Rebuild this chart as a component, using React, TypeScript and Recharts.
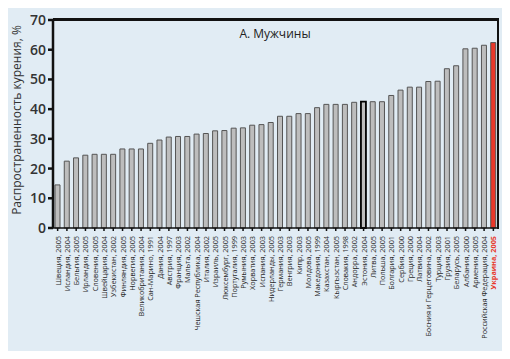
import { Bar, BarChart, Cell, XAxis, YAxis, ReferenceLine } from 'recharts';

const countries = [
  'Швеция, 2005', 'Исландия, 2004', 'Бельгия, 2005', 'Ирландия, 2005', 'Словения, 2005',
  'Швейцария, 2004', 'Узбекистан, 2002', 'Финляндия, 2005', 'Норвегия, 2005', 'Великобритания, 2004',
  'Сан-Марино, 1991', 'Дания, 2004', 'Австрия, 1997', 'Франция, 2003', 'Мальта, 2002',
  'Чешская Республика, 2004', 'Италия, 2002', 'Израиль, 2005', 'Люксембург, 2005', 'Португалия, 1999',
  'Румыния, 2003', 'Хорватия, 2003', 'Испания, 2003', 'Нидерланды, 2005', 'Германия, 2003',
  'Венгрия, 2003', 'Кипр, 2003', 'Молдова, 2005', 'Македония, 1999', 'Казахстан, 2004',
  'Кыргызстан, 2005', 'Словакия, 1998', 'Андорра, 2002', 'Эстония, 2004', 'Литва, 2005',
  'Польша, 2005', 'Болгария, 2001', 'Сербия, 2000', 'Греция, 2000', 'Латвия, 2004',
  'Босния и Герцеговина, 2002', 'Турция, 2003', 'Грузия, 2001', 'Беларусь, 2005', 'Албания, 2000',
  'Армения, 2005', 'Российская Федерация, 2004', 'Украина, 2005',
];

const prevalence = [
  14.5, 22.5, 23.6, 24.5, 24.8, 24.8, 24.8, 26.6, 26.6, 26.6,
  28.5, 29.6, 30.6, 30.8, 30.8, 31.6, 31.8, 32.7, 32.8, 33.6,
  33.7, 34.6, 34.8, 35.5, 37.6, 37.6, 38.5, 38.5, 40.5, 41.6,
  41.6, 41.6, 42.3, 42.5, 42.5, 42.5, 44.6, 46.4, 47.4, 47.4,
  49.3, 49.4, 53.6, 54.6, 60.3, 60.5, 61.5, 62.4,
];

const yTicks = [0, 10, 20, 30, 40, 50, 60, 70];

const highlight = 'Украина, 2005';
const marked = 'Эстония, 2004';

const data = countries.map((c, i) => ({ country: c, value: prevalence[i] }));

const font = '"Open Sans", "DejaVu Sans", sans-serif';

function CountryTick(props: any) {
  const { x, y, payload } = props;
  const isUa = payload.value === highlight;
  return (
    <text
      x={x}
      y={y + 3}
      transform={`rotate(-90, ${x}, ${y + 3})`}
      textAnchor="end"
      dominantBaseline="central"
      fontSize={7.3}
      fontFamily={font}
      fontWeight={isUa ? 700 : 400}
      fill={isUa ? '#e8382a' : '#2a2a2a'}
    >
      {payload.value}
    </text>
  );
}

export default function App() {
  return (
    <div style={{ position: 'relative', margin: -8, width: 510, height: 359, background: '#e1ecf4' }}>
      <BarChart
        width={510}
        height={359}
        data={data}
        margin={{ top: 19, right: 11, left: 0, bottom: 0 }}
        barCategoryGap={3}
      >
        <XAxis
          dataKey="country"
          interval={0}
          height={131}
          stroke="#111"
          strokeWidth={1.5}
          tickSize={3}
          tick={<CountryTick />}
        />
        <XAxis xAxisId="top" dataKey="country" orientation="top" height={1} interval={0} tick={false} tickLine={false} axisLine={{ stroke: '#111', strokeWidth: 2 }} />
        <YAxis
          domain={[0, 70]}
          ticks={yTicks}
          width={53}
          stroke="#111"
          strokeWidth={2.5}
          tickSize={5}
          tick={{ fontSize: 14, fill: '#333', fontFamily: font, fontWeight: 600 }}
        />
        <YAxis yAxisId="right" orientation="right" domain={[0, 70]} width={1} tick={false} tickLine={false} axisLine={{ stroke: '#111', strokeWidth: 2 }} />
        <ReferenceLine y={70} stroke="#111" strokeWidth={2} ifOverflow="visible" />
        <Bar dataKey="value" barSize={5} stroke="#555" strokeWidth={1} isAnimationActive={false}>
          {data.map((d) => (
            <Cell
              key={d.country}
              fill={d.country === highlight ? '#e8382a' : '#bdbdbd'}
              stroke={d.country === marked ? '#000' : '#555'}
              strokeWidth={d.country === marked ? 1.8 : 1}
            />
          ))}
        </Bar>
        <text
          x={16}
          y={120}
          transform="rotate(-90, 16, 120)"
          textAnchor="middle"
          dominantBaseline="central"
          fontSize={12}
          fontFamily={font}
          fill="#333"
        >
          Распространенность курения, %
        </text>
        <text x={275} y={38} textAnchor="middle" fontSize={12} fontFamily={font} fill="#222">
          А. Мужчины
        </text>
      </BarChart>
      <div
        style={{
          position: 'absolute',
          left: 53,
          top: 18,
          width: 444,
          height: 209,
          borderTop: '2px solid #111',
          borderRight: '2px solid #111',
          zIndex: 5,
          pointerEvents: 'none',
        }}
      />
    </div>
  );
}
